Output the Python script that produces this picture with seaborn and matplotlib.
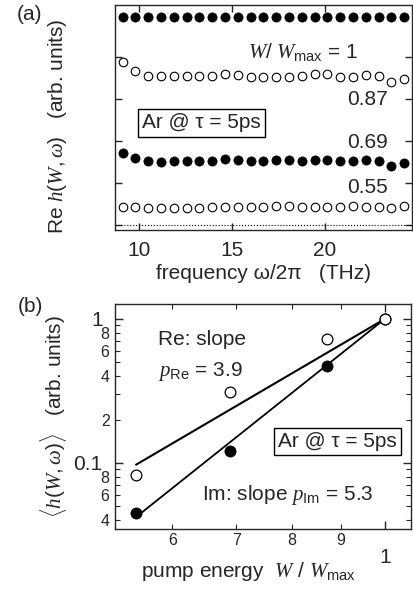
import matplotlib
matplotlib.use("Agg")
import matplotlib.pyplot as plt
import matplotlib.ticker as mticker
import seaborn as sns
import pandas as pd

# ---- panel (a): Re h(W, w) vs frequency, stacked by pump energy ----
freq = [9.10, 9.79, 10.48, 11.17, 11.86, 12.55, 13.24, 13.93, 14.62, 15.31, 16.00, 16.69,
        17.38, 18.07, 18.76, 19.45, 20.14, 20.83, 21.52, 22.21, 22.90, 23.59, 24.28]
re_w100 = [4.96] * 23
re_w087 = [3.89, 3.67, 3.55, 3.55, 3.55, 3.55, 3.55, 3.56, 3.60, 3.58, 3.53, 3.53,
           3.53, 3.53, 3.55, 3.59, 3.59, 3.53, 3.53, 3.58, 3.56, 3.40, 3.47]
re_w069 = [1.71, 1.59, 1.52, 1.51, 1.52, 1.53, 1.52, 1.53, 1.57, 1.56, 1.52, 1.52,
           1.55, 1.55, 1.52, 1.54, 1.55, 1.53, 1.52, 1.55, 1.52, 1.41, 1.47]
re_w055 = [0.44, 0.42, 0.41, 0.40, 0.41, 0.41, 0.40, 0.42, 0.44, 0.44, 0.42, 0.44,
           0.46, 0.46, 0.44, 0.44, 0.44, 0.42, 0.45, 0.44, 0.42, 0.40, 0.45]
row_labels = ["0.87", "0.69", "0.55"]

# ---- panel (b): averaged response vs pump energy ----
energy = [0.55, 0.69, 0.87, 1.0]
re_avg = [0.083, 0.31, 0.72, 1.0]
im_avg = [0.045, 0.12, 0.47, 1.0]
p_re = 3.9
p_im = 5.3
fit_x = [0.55, 1.0]

y_major = [0.1, 1]
y_minor = [0.04, 0.05, 0.06, 0.07, 0.08, 0.09, 0.2, 0.3, 0.4, 0.5, 0.6, 0.7, 0.8, 0.9]
y_minor_lbl = ["4", "", "6", "", "8", "", "2", "", "4", "", "6", "", "8", ""]
x_minor = [0.6, 0.7, 0.8, 0.9]
x_minor_lbl = ["6", "7", "8", "9"]

sns.set_style("ticks")
plt.rcParams["font.family"] = ["Liberation Sans", "DejaVu Sans"]
plt.rcParams["mathtext.fontset"] = "custom"
plt.rcParams["mathtext.rm"] = "Liberation Sans"
plt.rcParams["mathtext.it"] = "Liberation Serif:italic"
plt.rcParams["mathtext.bf"] = "Liberation Sans:bold"
plt.rcParams["axes.linewidth"] = 1.0

fig = plt.figure(figsize=(4.14, 5.89), dpi=100)
ax1 = fig.add_axes([0.278, 0.6095, 0.717, 0.382])
ax2 = fig.add_axes([0.278, 0.102, 0.715, 0.382])

fs = 15
c = "black"

# panel (a)
ax1.axhline(0, color=c, lw=0.8, ls=":")
for vals, filled in [(re_w100, True), (re_w087, False), (re_w069, True), (re_w055, False)]:
    d = pd.DataFrame({"f": freq, "v": vals})
    if filled:
        sns.scatterplot(data=d, x="f", y="v", ax=ax1, color=c, edgecolor=c, s=44, linewidth=0.5, zorder=3)
    else:
        sns.scatterplot(data=d, x="f", y="v", ax=ax1, color="white", edgecolor=c, s=38, linewidth=0.8, zorder=3)

ax1.set_xlim(8.7, 24.7)
ax1.set_ylim(-0.119, 5.24)
ax1.set_xticks([10, 15, 20])
ax1.set_yticks([0, 1, 2, 3, 4])
ax1.set_yticklabels([])
ax1.tick_params(direction="in", top=True, right=True, length=5, width=1.0, labelsize=fs)
ax1.tick_params(axis="x", pad=8)
ax1.set_xlabel("frequency ω/2π   (THz)", fontsize=fs, labelpad=3)
ax1.set_ylabel(r"Re $h(W,\omega)$   (arb. units)", fontsize=15)
ax1.yaxis.set_label_coords(-0.155, 0.462)

ax1.text(0.818, 0.79, r"$W/\ W_{\rm max}$ = 1", transform=ax1.transAxes, fontsize=fs, ha="right", va="center")
for lbl, yy in zip(row_labels, [0.582, 0.391, 0.191]):
    ax1.text(0.919, yy, lbl, transform=ax1.transAxes, fontsize=fs, ha="right", va="center")
ax1.text(0.29, 0.476, "Ar @ τ = 5ps", transform=ax1.transAxes, fontsize=fs, ha="center", va="center",
         bbox=dict(boxstyle="square,pad=0.2", fc="white", ec=c, lw=1.0))

# panel (b)
ax2.set_xscale("log")
ax2.set_yscale("log")
sns.lineplot(x=fit_x, y=[v ** p_re for v in fit_x], ax=ax2, color=c, lw=1.5, zorder=2)
sns.lineplot(x=fit_x, y=[v ** p_im for v in fit_x], ax=ax2, color=c, lw=1.3, zorder=2)
sns.scatterplot(x=energy, y=im_avg, ax=ax2, color=c, edgecolor=c, s=65, linewidth=0.5, zorder=3)
sns.scatterplot(x=energy, y=re_avg, ax=ax2, color="white", edgecolor=c, s=60, linewidth=0.9, zorder=4)

ax2.set_xlim(0.523, 1.065)
ax2.set_ylim(0.0348, 1.27)
ax2.xaxis.set_major_locator(mticker.FixedLocator([1]))
ax2.xaxis.set_major_formatter(mticker.FixedFormatter(["1"]))
ax2.xaxis.set_minor_locator(mticker.FixedLocator(x_minor))
ax2.xaxis.set_minor_formatter(mticker.FixedFormatter(x_minor_lbl))
ax2.yaxis.set_major_locator(mticker.FixedLocator(y_major))
ax2.yaxis.set_major_formatter(mticker.FixedFormatter(["0.1", "1"]))
ax2.yaxis.set_minor_locator(mticker.FixedLocator(y_minor))
ax2.yaxis.set_minor_formatter(mticker.FixedFormatter(y_minor_lbl))
ax2.tick_params(which="major", direction="in", top=True, right=True, length=6, width=1.0, labelsize=fs)
ax2.tick_params(which="minor", direction="in", top=True, right=True, length=3.5, width=0.8, labelsize=11.5)
ax2.tick_params(axis="x", which="minor", pad=3)
ax2.tick_params(axis="x", which="major", pad=14)
ax2.tick_params(axis="y", which="minor", pad=4)
ax2.tick_params(axis="y", which="major", pad=9)

ax2.set_xlabel(r"pump energy  $W$ / $W_{\rm max}$", fontsize=fs)
ax2.xaxis.set_label_coords(0.45, -0.14)
ax2.set_ylabel(r"$\langle h(W,\omega)\rangle$   (arb. units)", fontsize=15)
ax2.yaxis.set_label_coords(-0.155, 0.5)

ax2.text(0.145, 0.84, "Re: slope", transform=ax2.transAxes, fontsize=fs, ha="left", va="center")
ax2.text(0.145, 0.70, r"$p_{\rm Re}$ = 3.9", transform=ax2.transAxes, fontsize=fs, ha="left", va="center")
ax2.text(0.294, 0.151, r"Im: slope $p_{\rm Im}$ = 5.3", transform=ax2.transAxes, fontsize=fs, ha="left", va="center")
ax2.text(0.75, 0.39, "Ar @ τ = 5ps", transform=ax2.transAxes, fontsize=fs, ha="center", va="center",
         bbox=dict(boxstyle="square,pad=0.2", fc="white", ec=c, lw=1.0))

fig.text(30 / 414, 1 - 15 / 589, "(a)", fontsize=fs, ha="center", va="center")
fig.text(30 / 414, 1 - 306 / 589, "(b)", fontsize=fs, ha="center", va="center")

fig.savefig("out.png", dpi=100)
